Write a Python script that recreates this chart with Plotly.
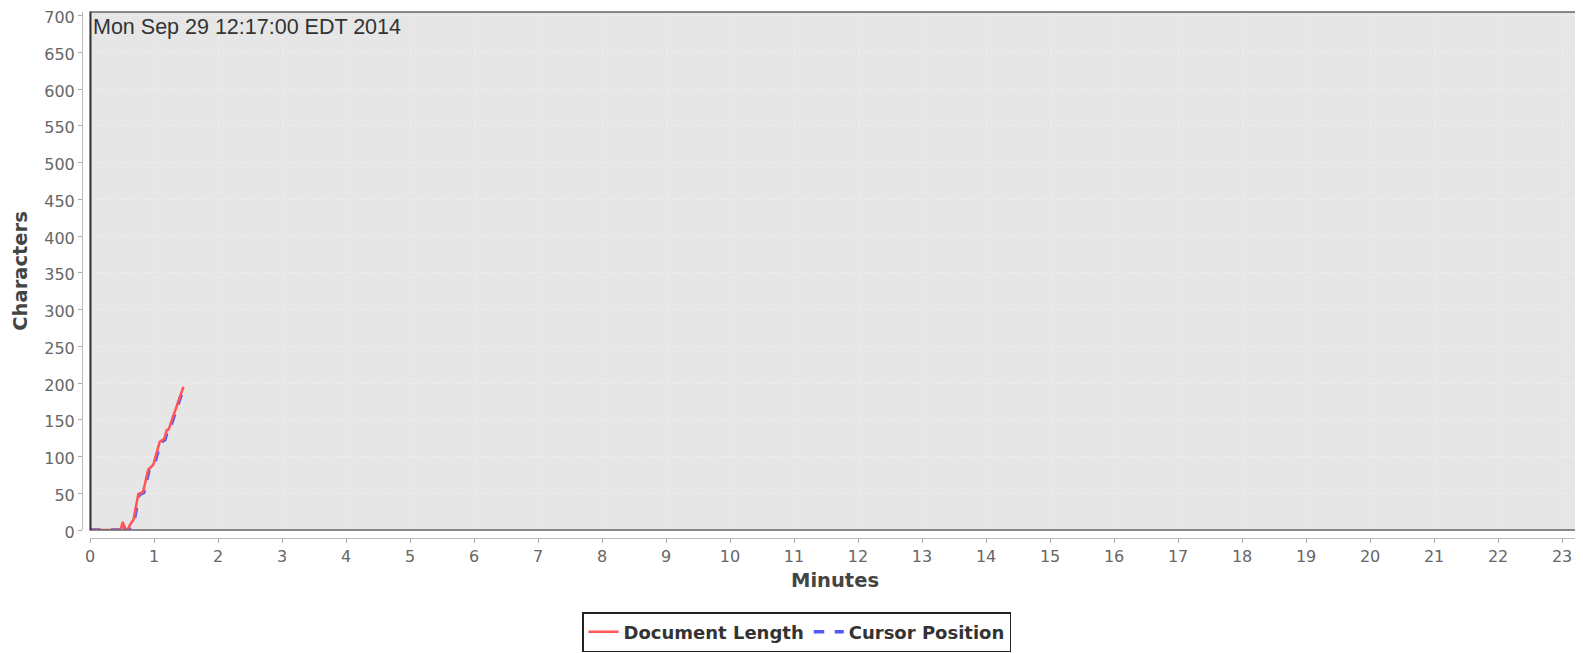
import plotly.graph_objects as go

# Data (minutes, characters)
doc_minutes = [0.0, 0.03, 0.48, 0.51, 0.55, 0.59, 0.625, 0.68, 0.755, 0.83, 0.91, 0.99, 1.09, 1.16, 1.2, 1.23, 1.46]
doc_length = [0, 0, 0, 11, 1, 0, 7, 14, 49, 52, 82, 89, 120, 124, 136, 137, 195]
cursor_minutes = [0.0, 0.03, 0.48, 0.51, 0.55, 0.6, 0.64, 0.69, 0.765, 0.84, 0.92, 1.0, 1.1, 1.17, 1.21, 1.24, 1.465]
cursor_position = [0, 0, 0, 10, 0, 0, 6, 13, 48, 51, 81, 88, 119, 123, 135, 136, 194]
session_start = [0.0]
x_ticks = list(range(0, 24))
y_ticks = list(range(0, 701, 50))
stamp = "Mon Sep 29 12:17:00 EDT 2014"

W, H = 1583, 653
PAGE = 8  # default body margin of the html page
L, R, T, B = 82 - PAGE, 11, 12 - PAGE, 123
pw = W - L - R
ph = H - T - B
off = 8

fig = go.Figure()
fig.add_trace(go.Scatter(x=cursor_minutes, y=cursor_position, mode="lines", name="Cursor Position",
                         line=dict(color="#5555ff", width=3.5, dash="dash")))
fig.add_trace(go.Scatter(x=doc_minutes, y=doc_length, mode="lines", name="Document Length",
                         line=dict(color="#ff5555", width=2.5)))

tickfont = dict(family="DejaVu Sans", size=16, color="#666666")
titlefont = dict(family="DejaVu Sans", size=19.5, color="#444444", weight="bold")
fig.update_layout(
    width=W, height=H,
    margin=dict(l=L, r=R, t=T, b=B, autoexpand=False),
    paper_bgcolor="white",
    plot_bgcolor="#e6e6e6",
    showlegend=True,
    legend=dict(orientation="h", xref="container", yref="container", x=(582 - PAGE) / W,
                y=1 - (612 - PAGE) / H,
                xanchor="left", yanchor="top", bordercolor="#222222", borderwidth=1.5,
                bgcolor="white", traceorder="reversed",
                font=dict(family="DejaVu Sans", size=18, color="#333333", weight="bold"),
                itemwidth=30, tracegroupgap=0),
    xaxis=dict(domain=[off / pw, 1], range=[0, 23.28], tickvals=x_ticks, ticks="outside", ticklen=4,
               tickcolor="#aaaaaa", showline=True, linecolor="#bbbbbb", linewidth=1,
               anchor="free", position=0, zeroline=False, automargin=False,
               ticklabeloverflow="allow",
               showgrid=True, gridcolor="#eeeeee", griddash="dot", gridwidth=1,
               tickfont=tickfont,
               title=dict(text="Minutes", standoff=8, font=titlefont)),
    yaxis=dict(domain=[off / ph, 1], range=[0, 705], tickvals=y_ticks, ticks="outside", ticklen=4,
               tickcolor="#aaaaaa", showline=True, linecolor="#bbbbbb", linewidth=1,
               anchor="free", position=0, zeroline=False, automargin=False,
               ticklabeloverflow="allow", ticklabelshift=2,
               showgrid=True, gridcolor="#eeeeee", griddash="dot", gridwidth=1,
               tickfont=tickfont,
               title=dict(text="Characters", standoff=10, font=titlefont)),
)

# plot outline
fig.add_shape(type="rect", xref="x domain", yref="y domain", x0=0, x1=1, y0=0, y1=1,
              line=dict(color="#666666", width=1.5), layer="above")
# session start marker
for s in session_start:
    fig.add_shape(type="line", xref="x", yref="y domain", x0=s, x1=s, y0=0, y1=1,
                  line=dict(color="#333333", width=3), layer="above")

fig.add_annotation(text=stamp, xref="x domain", yref="y domain", x=0.001, y=0.999,
                   xanchor="left", yanchor="top", showarrow=False,
                   font=dict(family="Liberation Sans", size=21.5, color="#333333"))

fig.write_html("out.html")
